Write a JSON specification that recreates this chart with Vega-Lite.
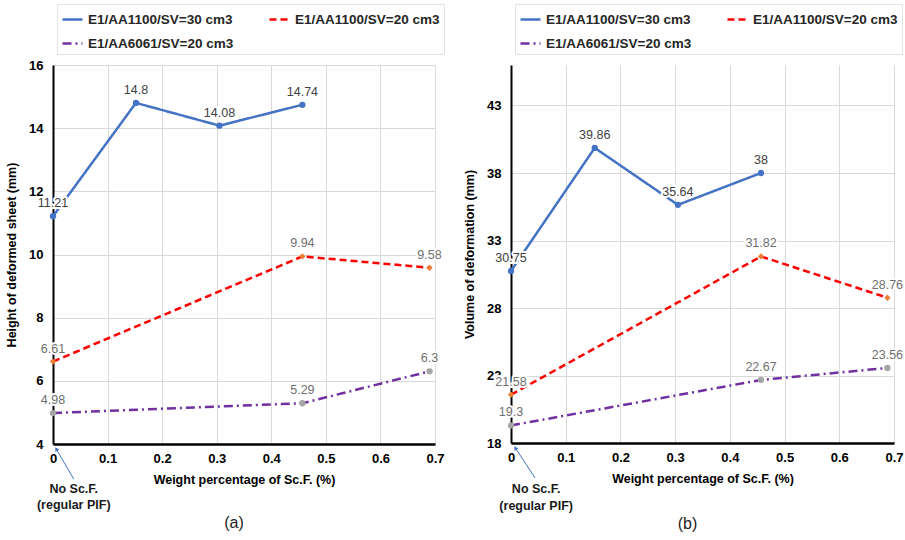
{
  "$schema": "https://vega.github.io/schema/vega-lite/v6.json",
  "padding": {"left": 5, "top": 3, "right": 5, "bottom": 5},
  "config": {
    "view": {"stroke": null},
    "font": "Liberation Sans",
    "axis": {
      "labelFont": "Liberation Sans", "titleFont": "Liberation Sans",
      "labelFontWeight": "bold", "titleFontWeight": "bold",
      "labelColor": "black", "titleColor": "black",
      "labelFontSize": 13, "titleFontSize": 12.5,
      "ticks": false, "gridColor": "#d9d9d9", "gridWidth": 1,
      "domainColor": "black"
    },
    "legend": {
      "orient": "none", "columns": 2, "direction": "horizontal", "title": null,
      "labelFont": "Liberation Sans", "labelFontWeight": "bold", "labelFontSize": 13.5, "labelColor": "#262626",
      "symbolType": "stroke", "symbolStrokeWidth": 2.5, "symbolSize": 400,
      "strokeColor": "#e3e3e3", "padding": 4, "rowPadding": 6, "columnPadding": 30, "labelOffset": 4
    }
  },
  "datasets": {
    "a": [
      {"series": "E1/AA1100/SV=30 cm3", "x": 0, "y": 11.21},
      {"series": "E1/AA1100/SV=30 cm3", "x": 0.152, "y": 14.8},
      {"series": "E1/AA1100/SV=30 cm3", "x": 0.305, "y": 14.08},
      {"series": "E1/AA1100/SV=30 cm3", "x": 0.457, "y": 14.74},
      {"series": "E1/AA1100/SV=20 cm3", "x": 0, "y": 6.61},
      {"series": "E1/AA1100/SV=20 cm3", "x": 0.457, "y": 9.94},
      {"series": "E1/AA1100/SV=20 cm3", "x": 0.69, "y": 9.58},
      {"series": "E1/AA6061/SV=20 cm3", "x": 0, "y": 4.98},
      {"series": "E1/AA6061/SV=20 cm3", "x": 0.457, "y": 5.29},
      {"series": "E1/AA6061/SV=20 cm3", "x": 0.69, "y": 6.3}
    ],
    "b": [
      {"series": "E1/AA1100/SV=30 cm3", "x": 0, "y": 30.75},
      {"series": "E1/AA1100/SV=30 cm3", "x": 0.153, "y": 39.86},
      {"series": "E1/AA1100/SV=30 cm3", "x": 0.305, "y": 35.64},
      {"series": "E1/AA1100/SV=30 cm3", "x": 0.457, "y": 38},
      {"series": "E1/AA1100/SV=20 cm3", "x": 0, "y": 21.58},
      {"series": "E1/AA1100/SV=20 cm3", "x": 0.457, "y": 31.82},
      {"series": "E1/AA1100/SV=20 cm3", "x": 0.688, "y": 28.76},
      {"series": "E1/AA6061/SV=20 cm3", "x": 0, "y": 19.3},
      {"series": "E1/AA6061/SV=20 cm3", "x": 0.457, "y": 22.67},
      {"series": "E1/AA6061/SV=20 cm3", "x": 0.688, "y": 23.56}
    ],
    "note_a": [
      {"t": "No Sc.F.", "x": 0.038, "y": 2.58},
      {"t": "(regular PIF)", "x": 0.038, "y": 2.07}
    ],
    "arrow_a": [{"x": 0.038, "y": 2.89, "x2": 0.006, "y2": 3.84}],
    "note_b": [
      {"t": "No Sc.F.", "x": 0.046, "y": 14.6},
      {"t": "(regular PIF)", "x": 0.046, "y": 13.35}
    ],
    "arrow_b": [{"x": 0.044, "y": 15.41, "x2": 0.008, "y2": 17.63}]
  },
  "hconcat": [
    {
      "width": 382, "height": 379,
      "title": {"text": "(a)", "orient": "bottom", "fontSize": 16, "fontWeight": "normal", "color": "#222", "anchor": "middle", "dx": -10, "offset": 4},
      "layer": [
        {
          "data": {"name": "a"},
          "mark": {"type": "line", "strokeWidth": 2.5},
          "encoding": {
            "x": {"field": "x", "type": "quantitative", "scale": {"domain": [0, 0.7], "nice": false},
                  "axis": {"values": [0, 0.1, 0.2, 0.3, 0.4, 0.5, 0.6, 0.7], "format": "~g", "title": "Weight percentage of Sc.F. (%)", "domainWidth": 2.5, "labelPadding": 8, "labelFlush": false, "labelOverlap": false, "titlePadding": 8}},
            "y": {"field": "y", "type": "quantitative", "scale": {"domain": [4, 16], "nice": false, "zero": false},
                  "axis": {"values": [4, 6, 8, 10, 12, 14, 16], "title": "Height of deformed sheet (mm)", "domainWidth": 2, "labelPadding": 10, "titlePadding": 10}},
            "color": {"field": "series", "type": "nominal", "scale": {"domain": ["E1/AA1100/SV=30 cm3", "E1/AA1100/SV=20 cm3", "E1/AA6061/SV=20 cm3"], "range": ["#4472C4", "#FF0000", "#7030A0"]}, "legend": {"legendX": 4, "legendY": -61}},
            "strokeDash": {"field": "series", "type": "nominal", "scale": {"domain": ["E1/AA1100/SV=30 cm3", "E1/AA1100/SV=20 cm3", "E1/AA6061/SV=20 cm3"], "range": [[1, 0], [7, 4], [9, 4, 2, 4]]}, "legend": {"legendX": 4, "legendY": -61}}
          }
        },
        {
          "data": {"name": "a"},
          "mark": {"type": "point", "filled": true, "opacity": 1},
          "encoding": {
            "x": {"field": "x", "type": "quantitative"},
            "y": {"field": "y", "type": "quantitative"},
            "fill": {"field": "series", "type": "nominal", "legend": null, "scale": {"domain": ["E1/AA1100/SV=30 cm3", "E1/AA1100/SV=20 cm3", "E1/AA6061/SV=20 cm3"], "range": ["#4472C4", "#ED7D31", "#A5A5A5"]}},
            "shape": {"field": "series", "type": "nominal", "legend": null, "scale": {"domain": ["E1/AA1100/SV=30 cm3", "E1/AA1100/SV=20 cm3", "E1/AA6061/SV=20 cm3"], "range": ["circle", "diamond", "circle"]}},
            "size": {"value": 40}
          }
        },
        {
          "data": {"name": "a"},
          "mark": {"type": "text", "dy": -13, "fontSize": 12.5, "font": "Liberation Sans", "stroke": "white", "strokeWidth": 4, "strokeOpacity": 1, "fill": "white", "strokeJoin": "round"},
          "encoding": {
            "x": {"field": "x", "type": "quantitative"},
            "y": {"field": "y", "type": "quantitative"},
            "text": {"field": "y", "type": "quantitative"}
          }
        },
        {
          "data": {"name": "a"},
          "mark": {"type": "text", "dy": -13, "fontSize": 12.5, "font": "Liberation Sans"},
          "encoding": {
            "x": {"field": "x", "type": "quantitative"},
            "y": {"field": "y", "type": "quantitative"},
            "text": {"field": "y", "type": "quantitative"},
            "color": {"condition": {"test": "datum.series === 'E1/AA1100/SV=30 cm3'", "value": "#404040"}, "value": "#6f6f6f"}
          }
        },
        {
          "data": {"name": "note_a"},
          "mark": {"type": "text", "fontSize": 12.5, "fontWeight": "bold", "color": "#1a1a1a", "font": "Liberation Sans"},
          "encoding": {
            "x": {"field": "x", "type": "quantitative"},
            "y": {"field": "y", "type": "quantitative"},
            "text": {"field": "t"}
          }
        },
        {
          "data": {"name": "arrow_a"},
          "mark": {"type": "rule", "color": "#4472C4", "strokeWidth": 1},
          "encoding": {
            "x": {"field": "x", "type": "quantitative"},
            "y": {"field": "y", "type": "quantitative"},
            "x2": {"field": "x2"},
            "y2": {"field": "y2"}
          }
        },
        {
          "data": {"name": "arrow_a"},
          "mark": {"type": "point", "shape": "triangle-up", "filled": true, "color": "#4472C4", "size": 22, "angle": -31, "opacity": 1},
          "encoding": {
            "x": {"field": "x2", "type": "quantitative"},
            "y": {"field": "y2", "type": "quantitative"}
          }
        }
      ],
      "resolve": {"scale": {"color": "independent", "strokeDash": "independent", "fill": "independent", "shape": "independent"}}
    },
    {
      "width": 383, "height": 378,
      "title": {"text": "(b)", "orient": "bottom", "fontSize": 16, "fontWeight": "normal", "color": "#222", "anchor": "middle", "dx": -15, "offset": 4},
      "layer": [
        {
          "data": {"name": "b"},
          "mark": {"type": "line", "strokeWidth": 2.5},
          "encoding": {
            "x": {"field": "x", "type": "quantitative", "scale": {"domain": [0, 0.7], "nice": false},
                  "axis": {"values": [0, 0.1, 0.2, 0.3, 0.4, 0.5, 0.6, 0.7], "format": "~g", "title": "Weight percentage of Sc.F. (%)", "domainWidth": 2.5, "labelPadding": 8, "labelFlush": false, "labelOverlap": false, "titlePadding": 8}},
            "y": {"field": "y", "type": "quantitative", "scale": {"domain": [18, 46], "nice": false, "zero": false},
                  "axis": {"values": [18, 23, 28, 33, 38, 43], "title": "Volume of deformation (mm)", "domainWidth": 2, "labelPadding": 10, "titlePadding": 10}},
            "color": {"field": "series", "type": "nominal", "scale": {"domain": ["E1/AA1100/SV=30 cm3", "E1/AA1100/SV=20 cm3", "E1/AA6061/SV=20 cm3"], "range": ["#4472C4", "#FF0000", "#7030A0"]}, "legend": {"legendX": 4, "legendY": -61}},
            "strokeDash": {"field": "series", "type": "nominal", "scale": {"domain": ["E1/AA1100/SV=30 cm3", "E1/AA1100/SV=20 cm3", "E1/AA6061/SV=20 cm3"], "range": [[1, 0], [7, 4], [9, 4, 2, 4]]}, "legend": {"legendX": 4, "legendY": -61}}
          }
        },
        {
          "data": {"name": "b"},
          "mark": {"type": "point", "filled": true, "opacity": 1},
          "encoding": {
            "x": {"field": "x", "type": "quantitative"},
            "y": {"field": "y", "type": "quantitative"},
            "fill": {"field": "series", "type": "nominal", "legend": null, "scale": {"domain": ["E1/AA1100/SV=30 cm3", "E1/AA1100/SV=20 cm3", "E1/AA6061/SV=20 cm3"], "range": ["#4472C4", "#ED7D31", "#A5A5A5"]}},
            "shape": {"field": "series", "type": "nominal", "legend": null, "scale": {"domain": ["E1/AA1100/SV=30 cm3", "E1/AA1100/SV=20 cm3", "E1/AA6061/SV=20 cm3"], "range": ["circle", "diamond", "circle"]}},
            "size": {"value": 40}
          }
        },
        {
          "data": {"name": "b"},
          "mark": {"type": "text", "dy": -13, "fontSize": 12.5, "font": "Liberation Sans", "stroke": "white", "strokeWidth": 4, "strokeOpacity": 1, "fill": "white", "strokeJoin": "round"},
          "encoding": {
            "x": {"field": "x", "type": "quantitative"},
            "y": {"field": "y", "type": "quantitative"},
            "text": {"field": "y", "type": "quantitative"}
          }
        },
        {
          "data": {"name": "b"},
          "mark": {"type": "text", "dy": -13, "fontSize": 12.5, "font": "Liberation Sans"},
          "encoding": {
            "x": {"field": "x", "type": "quantitative"},
            "y": {"field": "y", "type": "quantitative"},
            "text": {"field": "y", "type": "quantitative"},
            "color": {"condition": {"test": "datum.series === 'E1/AA1100/SV=30 cm3'", "value": "#404040"}, "value": "#6f6f6f"}
          }
        },
        {
          "data": {"name": "note_b"},
          "mark": {"type": "text", "fontSize": 12.5, "fontWeight": "bold", "color": "#1a1a1a", "font": "Liberation Sans"},
          "encoding": {
            "x": {"field": "x", "type": "quantitative"},
            "y": {"field": "y", "type": "quantitative"},
            "text": {"field": "t"}
          }
        },
        {
          "data": {"name": "arrow_b"},
          "mark": {"type": "rule", "color": "#4472C4", "strokeWidth": 1},
          "encoding": {
            "x": {"field": "x", "type": "quantitative"},
            "y": {"field": "y", "type": "quantitative"},
            "x2": {"field": "x2"},
            "y2": {"field": "y2"}
          }
        },
        {
          "data": {"name": "arrow_b"},
          "mark": {"type": "point", "shape": "triangle-up", "filled": true, "color": "#4472C4", "size": 22, "angle": -31, "opacity": 1},
          "encoding": {
            "x": {"field": "x2", "type": "quantitative"},
            "y": {"field": "y2", "type": "quantitative"}
          }
        }
      ],
      "resolve": {"scale": {"color": "independent", "strokeDash": "independent", "fill": "independent", "shape": "independent"}}
    }
  ],
  "spacing": 18,
  "resolve": {
    "scale": {"x": "independent", "y": "independent", "color": "independent", "strokeDash": "independent", "fill": "independent", "shape": "independent"},
    "legend": {"color": "independent", "strokeDash": "independent"}
  }
}
